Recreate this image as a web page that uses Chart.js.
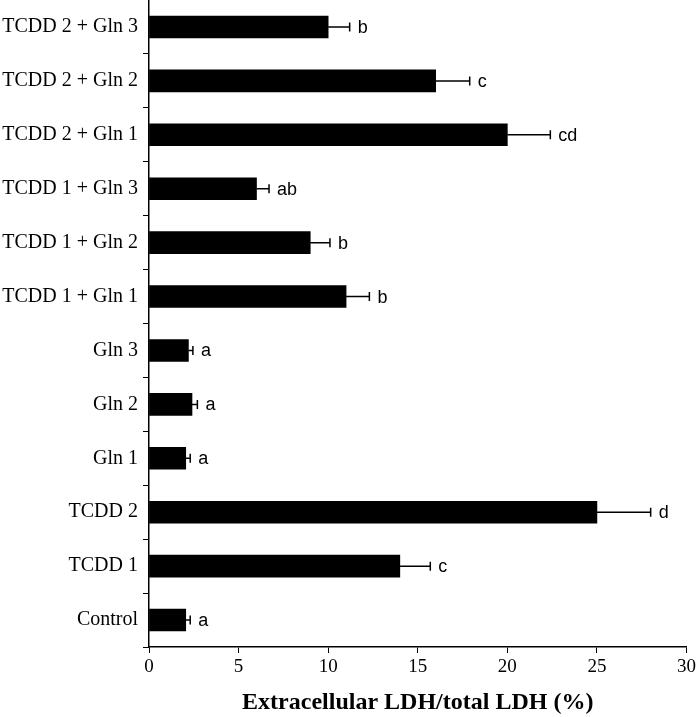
<!DOCTYPE html>
<html>
<head>
<meta charset="utf-8">
<script src="https://cdn.jsdelivr.net/npm/chart.js@4"></script>
<style>
  html, body { margin: 0; padding: 0; background: #fff; }
  #wrap { width: 699px; height: 717px; }
</style>
</head>
<body>
<div id="wrap"><canvas id="ldhChart" width="699" height="717"></canvas></div>
<script>
// groups, bottom to top as in the figure
var groups = ['Control', 'TCDD 1', 'TCDD 2', 'Gln 1', 'Gln 2', 'Gln 3',
  'TCDD 1 + Gln 1', 'TCDD 1 + Gln 2', 'TCDD 1 + Gln 3',
  'TCDD 2 + Gln 1', 'TCDD 2 + Gln 2', 'TCDD 2 + Gln 3'];
var ldhMean = [2.05, 14.0, 25.0, 2.05, 2.4, 2.2, 11.0, 9.0, 6.0, 20.0, 16.0, 10.0];
var ldhErr  = [0.25, 1.7, 3.0, 0.25, 0.3, 0.25, 1.3, 1.1, 0.7, 2.4, 1.9, 1.2];
var sigLetters = ['a', 'c', 'd', 'a', 'a', 'a', 'b', 'b', 'ab', 'cd', 'c', 'b'];
var xTicks = [0, 5, 10, 15, 20, 25, 30];

// error bars + letters drawn on top of the bars
var errorBars = {
  id: 'errorBars',
  afterDatasetsDraw: function(chart) {
    var ctx = chart.ctx;
    var xs = chart.scales.x, ys = chart.scales.y;
    ctx.save();
    ctx.strokeStyle = '#000';
    ctx.lineWidth = 1.5;
    ctx.fillStyle = '#000';
    ctx.font = '18px "Liberation Sans", Arial, sans-serif';
    ctx.textBaseline = 'middle';
    ctx.textAlign = 'left';
    for (var i = 0; i < ldhMean.length; i++) {
      var y = ys.getPixelForValue(i);
      var x0 = xs.getPixelForValue(ldhMean[i]);
      var x1 = xs.getPixelForValue(ldhMean[i] + ldhErr[i]);
      ctx.beginPath();
      ctx.moveTo(x0, y);
      ctx.lineTo(x1, y);
      ctx.moveTo(x1, y - 4.5);
      ctx.lineTo(x1, y + 4.5);
      ctx.stroke();
      ctx.fillText(sigLetters[i], x1 + 8, y + 1);
    }
    ctx.restore();
  }
};

var ctx = document.getElementById('ldhChart');

var ldhChart = new Chart(ctx, {
  type: 'bar',
  data: {
    labels: groups,
    datasets: [{
      data: ldhMean,
      backgroundColor: '#000',
      borderWidth: 0,
      barThickness: 22
    }]
  },
  options: {
    indexAxis: 'y',
    responsive: false,
    animation: false,
    layout: { padding: { top: 0, right: 11, left: 0, bottom: 0 } },
    scales: {
      x: {
        min: 0,
        max: 30,
        afterBuildTicks: function(scale) {
          scale.ticks = xTicks.map(function(v) { return { value: v }; });
        },
        afterFit: function(scale) { scale.height = 70; },
        grid: { drawOnChartArea: false, drawTicks: true, tickLength: 6, color: '#000' },
        border: { color: '#000', width: 1.5 },
        ticks: {
          color: '#000',
          padding: 3,
          maxRotation: 0,
          font: { family: '"Liberation Serif", "Times New Roman", serif', size: 19 }
        },
        title: {
          display: true,
          text: 'Extracellular LDH/total LDH (%)',
          color: '#000',
          padding: { top: 6, bottom: 0 },
          font: { family: '"Liberation Serif", "Times New Roman", serif', size: 24, weight: 'bold' }
        }
      },
      y: {
        reverse: true,
        afterFit: function(scale) {
          scale.width = 149;
          scale.paddingTop = 0;
          scale.paddingBottom = 0;
        },
        grid: { drawOnChartArea: false, drawTicks: true, tickLength: 6, color: '#000', offset: true },
        border: { color: '#000', width: 1.5 },
        ticks: {
          color: '#000',
          padding: 5,
          font: { family: '"Liberation Serif", "Times New Roman", serif', size: 20 }
        }
      }
    },
    plugins: {
      legend: { display: false },
      tooltip: { enabled: false }
    }
  },
  plugins: [errorBars]
});
</script>
</body>
</html>
